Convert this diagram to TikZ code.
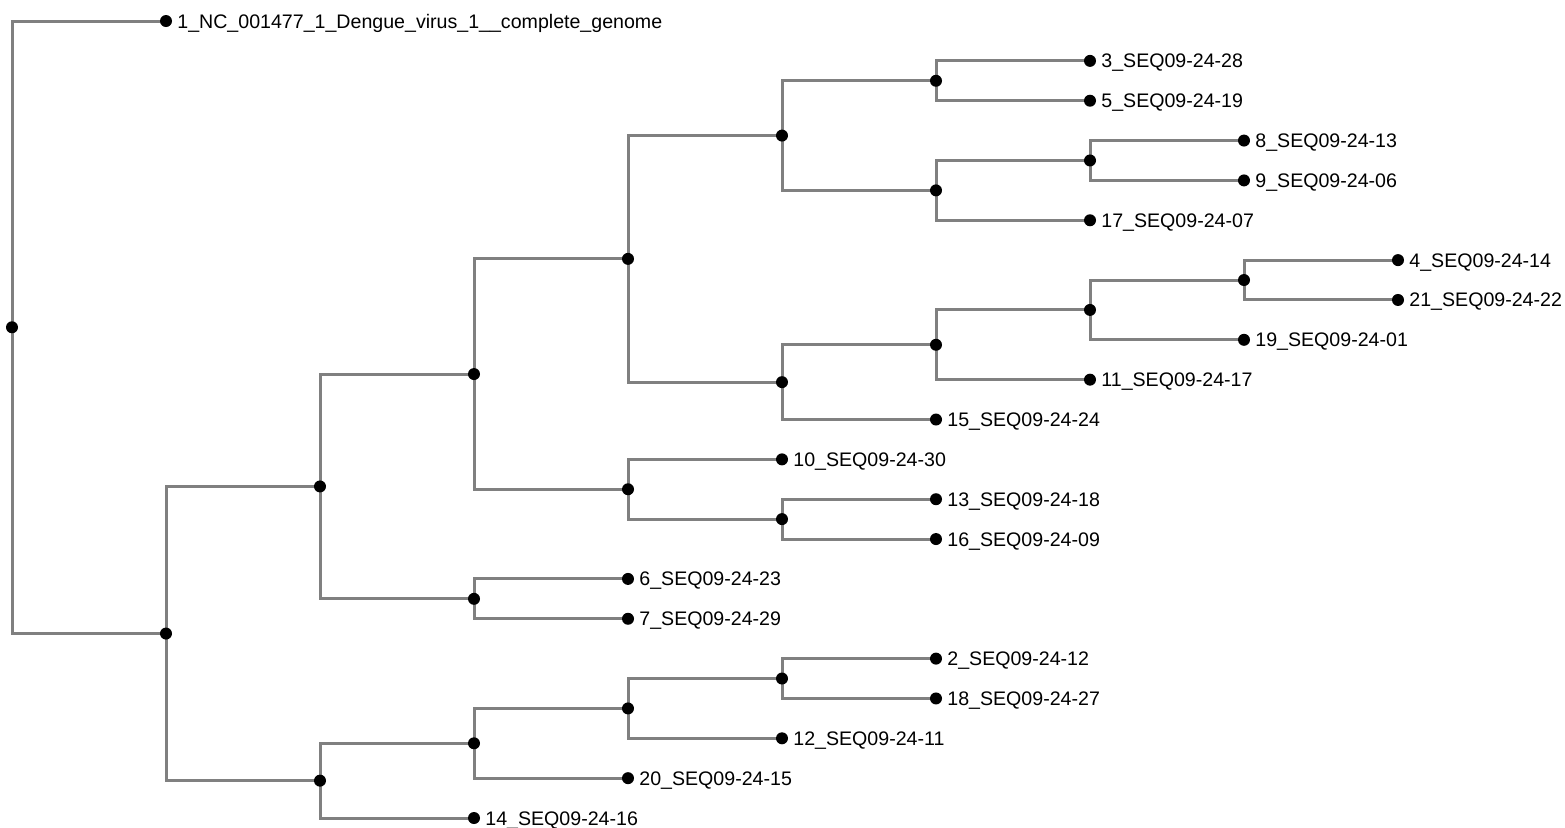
\documentclass[tikz,border=0pt]{standalone}
\usepackage{fontspec}
\setmainfont{Liberation Sans}
\usetikzlibrary{backgrounds}
\definecolor{branchgray}{RGB}{128,128,128}
\tikzset{
  dot/.style={circle,fill=black,inner sep=0pt,minimum size=6pt},
  branch/.style={draw=branchgray,line width=1.5pt},
  seqlbl/.style={anchor=west,inner sep=0pt,text height=7pt,text depth=0pt,
    font=\fontsize{9.8}{12}\selectfont},
}
\begin{document}
\begin{tikzpicture}[x=77pt,y=-19.925pt]
\useasboundingbox (-6pt,10.5pt) rectangle (776.5pt,-403pt);
% inner nodes of the tree
\foreach \nm/\col/\row in {root/0/7.685546875, a/1/15.37109375, b/2/11.6796875,
  c/2/19.0625, d/3/8.859375, e/3/14.5, q/3/18.125, f/4/5.96875, g/4/11.75,
  r/4/17.25, h/5/2.875, i/5/9.0625, p/5/12.5, s/5/16.5, j/6/1.5, k/6/4.25,
  m/6/8.125, l/7/3.5, n/7/7.25, o/8/6.5}
\node[dot] (\nm) at (\col,\row) {};
% leaves with their names
\foreach \nm/\col/\row/\txt in {
  seq1/1/0/{1\_NC\_001477\_1\_Dengue\_virus\_1\_\_complete\_genome},
  seq3/7/1/{3\_SEQ09-24-28}, seq5/7/2/{5\_SEQ09-24-19},
  seq8/8/3/{8\_SEQ09-24-13}, seq9/8/4/{9\_SEQ09-24-06},
  seq17/7/5/{17\_SEQ09-24-07}, seq4/9/6/{4\_SEQ09-24-14},
  seq21/9/7/{21\_SEQ09-24-22}, seq19/8/8/{19\_SEQ09-24-01},
  seq11/7/9/{11\_SEQ09-24-17}, seq15/6/10/{15\_SEQ09-24-24},
  seq10/5/11/{10\_SEQ09-24-30}, seq13/6/12/{13\_SEQ09-24-18},
  seq16/6/13/{16\_SEQ09-24-09}, seq6/4/14/{6\_SEQ09-24-23},
  seq7/4/15/{7\_SEQ09-24-29}, seq2/6/16/{2\_SEQ09-24-12},
  seq18/6/17/{18\_SEQ09-24-27}, seq12/5/18/{12\_SEQ09-24-11},
  seq20/4/19/{20\_SEQ09-24-15}, seq14/3/20/{14\_SEQ09-24-16}}
{
  \node[dot] (\nm) at (\col,\row) {};
  \node[seqlbl] (\nm-lbl) at ([xshift=5.5pt]\nm.center) {\txt};
}
% branches
\begin{scope}[on background layer]
\foreach \up/\down in {root/seq1, root/a, a/b, a/c, b/d, b/e, c/q, c/seq14,
  d/f, d/g, e/seq6, e/seq7, f/h, f/i, g/seq10, g/p, h/j, h/k, i/m, i/seq15,
  j/seq3, j/seq5, k/l, k/seq17, l/seq8, l/seq9, m/n, m/seq11, n/o, n/seq19,
  o/seq4, o/seq21, p/seq13, p/seq16, q/r, q/seq20, r/s, r/seq12,
  s/seq2, s/seq18}
\draw[branch] (\up.center) |- (\down.center);
\end{scope}
\end{tikzpicture}
\end{document}
